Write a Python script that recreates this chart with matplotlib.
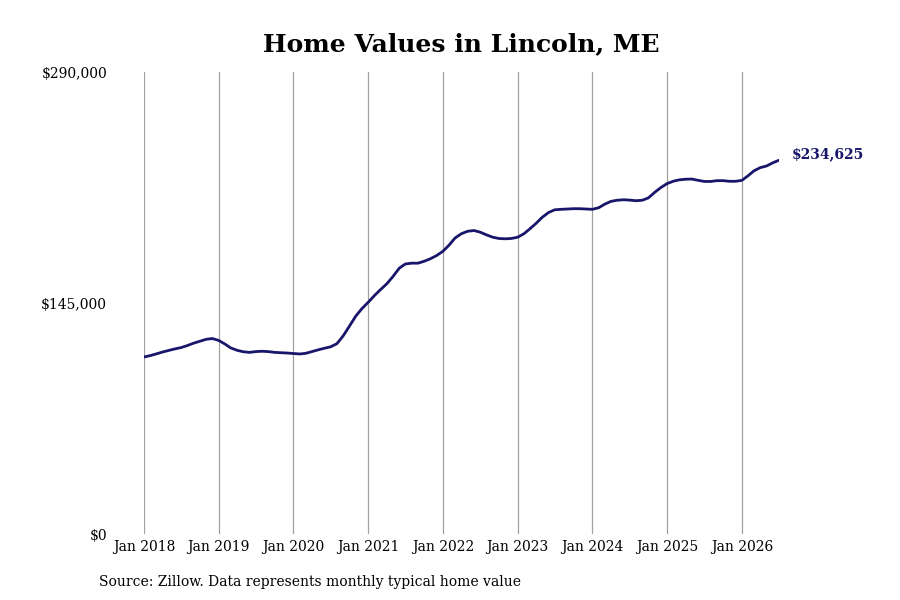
import matplotlib
matplotlib.use("Agg")
import matplotlib.pyplot as plt
import matplotlib.dates as mdates
import pandas as pd

start_month = "2018-01-01"
values = [
    # 2018
    111100, 112000, 113000, 114200, 115200, 116200, 117000, 118300, 119800, 121000, 122200, 122700,
    # 2019
    121500, 119200, 116800, 115300, 114400, 114000, 114500, 114700, 114500, 114000, 113800, 113600,
    # 2020
    113300, 113000, 113400, 114500, 115600, 116600, 117500, 119500, 124500, 130500, 136800, 141500,
    # 2021
    145500, 149800, 153300, 157000, 161500, 166800, 169500, 170000, 170000, 171200, 172800, 174800,
    # 2022
    177500, 181500, 185800, 188500, 190000, 190500, 189500, 187800, 186300, 185500, 185300, 185500,
    # 2023
    186300, 188500, 191500, 195000, 198800, 201800, 203500, 203800, 204000, 204200, 204200, 204000,
    # 2024
    203800, 204800, 207000, 208800, 209500, 209800, 209600, 209200, 209500, 211000, 214500, 217500,
    # 2025
    220000, 221500, 222300, 222700, 222800, 222000, 221300, 221300, 221800, 221800, 221400, 221400,
    # 2026
    222000, 225000, 228000, 230000, 231000, 233000, 234625,
]
title = "Home Values in Lincoln, ME"
source = "Source: Zillow. Data represents monthly typical home value"
y_ticks = [0, 145000, 290000]
y_tick_labels = ["$0", "$145,000", "$290,000"]
x_tick_years = list(range(2018, 2027))
end_label = "$234,625"

dates = pd.date_range(start_month, periods=len(values), freq="MS")
line_color = "#17166b"

plt.rcParams['font.family'] = ['DejaVu Serif']
fig = plt.figure(figsize=(9, 6), dpi=100)
ax = fig.add_axes([144/900, 1 - 534/600, (779-144)/900, (534-72)/600])

ax.plot(dates, values, color=line_color, lw=2.0, solid_capstyle='round')
ax.set_xlim(dates[0], dates[-1])
ax.set_ylim(0, 290000)

xt = [pd.Timestamp(f"{y}-01-01") for y in x_tick_years]
ax.set_xticks(xt)
ax.set_xticklabels([f"Jan {y}" for y in x_tick_years], fontsize=10)
ax.set_yticks(y_ticks)
ax.set_yticklabels(y_tick_labels, fontsize=10)
ax.tick_params(axis='x', length=0, pad=4)
ax.tick_params(axis='y', length=0, pad=26.5)
ax.grid(axis='x', color='#a0a0a0', lw=0.9)
ax.set_axisbelow(True)
for s in ax.spines.values():
    s.set_visible(False)

ax.annotate(end_label, xy=(dates[-1], values[-1]), xytext=(9.5, 4), textcoords='offset points',
            fontsize=10, fontweight='bold', color=line_color, va='center', ha='left',
            annotation_clip=False)

fig.text(461/900, 1 - 44/600, title, fontsize=18, fontweight='bold', ha='center', va='center')
fig.text(99/900, 1 - 582/600, source, fontsize=10, ha='left', va='center')

fig.savefig("out.png", dpi=100)
